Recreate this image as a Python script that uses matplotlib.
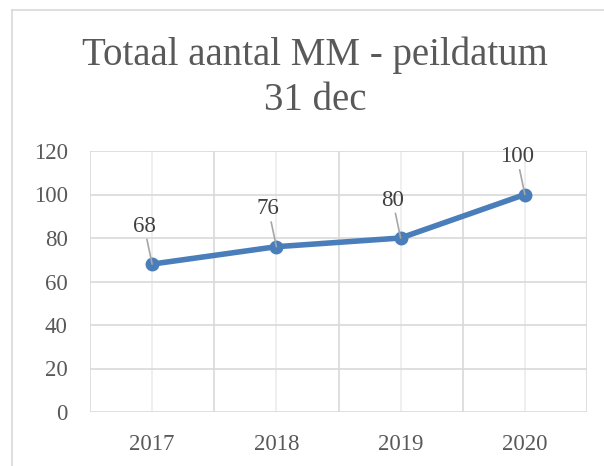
import matplotlib
matplotlib.use("Agg")
import matplotlib.pyplot as plt
from matplotlib.lines import Line2D

years = ["2017", "2018", "2019", "2020"]
totals = [68, 76, 80, 100]
y_ticks = [0, 20, 40, 60, 80, 100, 120]

txt_col = "#595959"
grid_col = "#d9d9d9"
line_col = "#4a7ebb"

plt.rcParams["font.family"] = ["Liberation Serif", "DejaVu Serif"]

fig = plt.figure(figsize=(6.04, 4.66), dpi=100)
W, H = 604, 466

# chart frame (left and top edges visible)
fig.add_artist(Line2D([12 / W, 12 / W], [0, 1 - 10 / H], color=grid_col, lw=1.2))
fig.add_artist(Line2D([12 / W, 1], [1 - 10 / H, 1 - 10 / H], color=grid_col, lw=1.2))

fig.text(315 / W, 1 - 78 / H, "Totaal aantal MM - peildatum\n31 dec",
         ha="center", va="center", fontsize=28, color=txt_col, linespacing=1.27)

ax = fig.add_axes([90 / W, 1 - 412 / H, (587 - 90) / W, (412 - 151) / H])
x = list(range(len(years)))

ax.set_xlim(-0.5, len(years) - 0.5)
ax.set_ylim(y_ticks[0], y_ticks[-1])
ax.set_yticks(y_ticks)
ax.set_xticks(x)
ax.set_xticklabels(years)
ax.set_xticks([i - 0.5 for i in range(len(years) + 1)], minor=True)

ax.grid(axis="y", color=grid_col, lw=1.2)
ax.grid(axis="x", which="minor", color=grid_col, lw=1.2)
ax.grid(axis="x", which="major", color="#ececec", lw=1.2)
ax.set_axisbelow(True)
for s in ax.spines.values():
    s.set_visible(False)
ax.tick_params(axis="both", which="both", length=0, colors=txt_col, labelsize=16.5)
ax.tick_params(axis="y", pad=16)
ax.tick_params(axis="x", pad=16)

ax.plot(x, totals, color=line_col, lw=4, marker="o", ms=9, zorder=3)

for xi, v in zip(x, totals):
    ax.annotate(str(v), xy=(xi, v), xytext=(-8, 38), textcoords="offset pixels",
                ha="center", va="center", fontsize=16.5, color="#404040",
                arrowprops=dict(arrowstyle="-", color="#a6a6a6", lw=1.2,
                                shrinkA=0, shrinkB=0), zorder=4)

fig.savefig("out.png", dpi=100, facecolor="white")
